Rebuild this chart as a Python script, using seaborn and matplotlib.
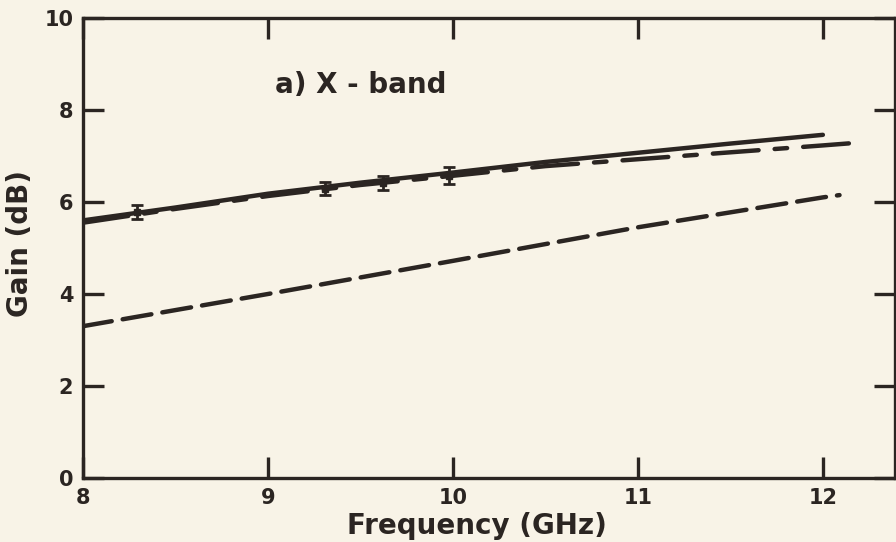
import matplotlib
matplotlib.use("Agg")
import matplotlib.pyplot as plt
import seaborn as sns

# curves
freq_solid = [8.0, 8.5, 9.0, 9.5, 10.0, 10.5, 11.0, 11.5, 12.0]
gain_solid = [5.6, 5.88, 6.18, 6.42, 6.64, 6.87, 7.07, 7.27, 7.46]

freq_upper = [8.0, 8.5, 9.0, 9.5, 10.0, 10.5, 11.0, 11.5, 12.0, 12.16]
gain_upper = [5.55, 5.85, 6.13, 6.37, 6.57, 6.78, 6.93, 7.08, 7.23, 7.28]

freq_lower = [8.0, 9.0, 10.0, 11.0, 12.0, 12.09]
gain_lower = [3.3, 4.0, 4.72, 5.45, 6.1, 6.15]

# measured points with error bars
freq_meas = [8.29, 9.31, 9.62, 9.98]
gain_meas = [5.78, 6.29, 6.42, 6.57]
gain_err = [0.15, 0.14, 0.15, 0.18]

xticks = [8, 9, 10, 11, 12]
yticks = [0, 2, 4, 6, 8, 10]

bg = "#f8f3e7"
ink = "#2b2522"

sns.set_style("ticks")
plt.rcParams["font.family"] = ["DejaVu Sans"]
plt.rcParams["font.weight"] = "bold"
plt.rcParams["lines.scale_dashes"] = False

fig = plt.figure(figsize=(8.96, 5.42), dpi=100, facecolor=bg)
ax = fig.add_axes([0.0926, 0.1181, 0.9063, 0.8487])
ax.set_facecolor(bg)

sns.lineplot(x=freq_solid, y=gain_solid, ax=ax, color=ink, linewidth=3.2,
             solid_capstyle="round")
sns.lineplot(x=freq_upper, y=gain_upper, ax=ax, color=ink, linewidth=3.2,
             linestyle=(0, (33, 11.6, 9, 11.6)), dash_capstyle="round")
sns.lineplot(x=freq_lower, y=gain_lower, ax=ax, color=ink, linewidth=3.2,
             linestyle=(0, (21, 8)), dash_capstyle="round")

ax.errorbar(freq_meas, gain_meas, yerr=gain_err, fmt="s", ms=5, color=ink,
            ecolor=ink, elinewidth=2, capsize=4.5, capthick=2)

ax.text(9.5, 8.54, "a) X - band", ha="center", va="center",
        fontsize=20, fontweight="bold", color=ink)

ax.set_xlim(8, 12.39)
ax.set_ylim(0, 10)
ax.set_xticks(xticks)
ax.set_yticks(yticks)
ax.set_xticklabels([str(t) for t in xticks], fontsize=15, fontweight="bold", color=ink)
ax.set_yticklabels([str(t) for t in yticks], fontsize=15, fontweight="bold", color=ink)

ax.tick_params(direction="in", top=True, right=True, length=15, width=2.4,
               color=ink, pad=7)
for side in ["left", "right", "top", "bottom"]:
    ax.spines[side].set_linewidth(2.4)
    ax.spines[side].set_color(ink)

ax.set_xlabel("Frequency (GHz)", fontsize=20, fontweight="bold", color=ink)
ax.xaxis.set_label_coords(0.485, -0.075)
ax.set_ylabel("Gain (dB)", fontsize=20, fontweight="bold", color=ink)
ax.yaxis.set_label_coords(-0.06, 0.51)

plt.savefig("out.png", dpi=100, facecolor=bg)
plt.close()
